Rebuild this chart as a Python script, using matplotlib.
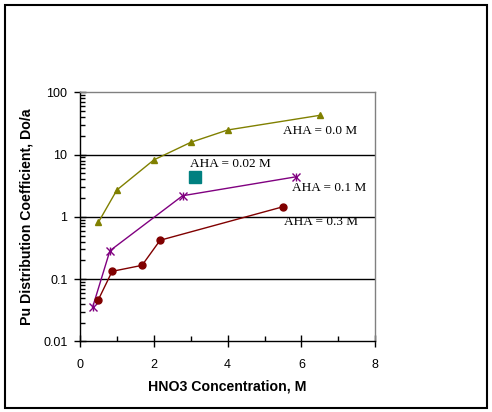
import matplotlib
matplotlib.use("Agg")
import matplotlib.pyplot as plt
from matplotlib.patches import Rectangle
from matplotlib.ticker import LogLocator, FixedLocator, NullFormatter, FuncFormatter

# Data
x_aha00 = [0.5, 1.0, 2.0, 3.0, 4.0, 6.5]
y_aha00 = [0.82, 2.7, 8.2, 15.7, 24.8, 42.7]

x_aha002 = [3.12]
y_aha002 = [4.3]

x_aha01 = [0.34, 0.81, 2.78, 5.86]
y_aha01 = [0.035, 0.285, 2.18, 4.4]

x_aha03 = [0.49, 0.87, 1.68, 2.17, 5.5]
y_aha03 = [0.0456, 0.133, 0.166, 0.42, 1.45]

labels = ["AHA = 0.0 M", "AHA = 0.02 M", "AHA = 0.1 M", "AHA = 0.3 M"]
y_ticks = [0.01, 0.1, 1, 10, 100]
y_tick_labels = ["0.01", "0.1", "1", "10", "100"]
x_ticks = [0, 2, 4, 6, 8]

fig = plt.figure(figsize=(4.92, 4.12), dpi=100)
fig.patches.append(Rectangle((5/492, 4/412), 482/492, 403/412, transform=fig.transFigure,
                             fill=False, edgecolor="black", linewidth=1.5))
ax = fig.add_axes([80/492, 1 - 341.3/412, (375.3-80)/492, (341.3-92.3)/412])

sans = "Liberation Sans"
serif = "Liberation Serif"

ax.set_yscale("log")
ax.set_xlim(0, 8)
ax.set_ylim(0.01, 100)

for yv in [0.1, 1, 10]:
    ax.axhline(yv, color="black", linewidth=1.0, zorder=1)

ax.plot(x_aha00, y_aha00, color="#808000", linewidth=1.0, marker="^", markersize=4.2, zorder=3)
ax.plot(x_aha01, y_aha01, color="#800080", linewidth=1.0, zorder=3)
ax.plot(x_aha01, y_aha01, color="#800080", linestyle="none", marker="x", markersize=5.5, markeredgewidth=1.0, zorder=3)
ax.plot(x_aha01, y_aha01, color="#800080", linestyle="none", marker="|", markersize=5.5, markeredgewidth=1.0, zorder=3)
ax.plot(x_aha03, y_aha03, color="#800000", linewidth=1.0, marker="o", markersize=5, zorder=3)
ax.plot(x_aha002, y_aha002, color="#008080", linestyle="none", marker="s", markersize=8, zorder=3)

tfs = 9.5
txt = [
    (labels[0], 283, 131),
    (labels[1], 190, 164),
    (labels[2], 292, 187.7),
    (labels[3], 284, 222),
]
for s, px, py in txt:
    ax.annotate(s, xy=(px, 412 - py), xycoords="figure pixels", fontsize=tfs, family=serif,
                va="center", ha="left")

ax.yaxis.set_major_locator(FixedLocator(y_ticks))
ax.yaxis.set_major_formatter(FuncFormatter(lambda v, p: y_tick_labels[y_ticks.index(v)] if v in y_ticks else ""))
ax.yaxis.set_minor_locator(LogLocator(base=10, subs=range(2, 10)))
ax.yaxis.set_minor_formatter(NullFormatter())
ax.xaxis.set_major_locator(FixedLocator(x_ticks))
ax.xaxis.set_minor_locator(FixedLocator([1, 3, 5, 7]))

ax.tick_params(which="major", direction="inout", length=8, width=1, labelsize=9)
ax.tick_params(axis="x", which="major", pad=9)
ax.tick_params(axis="y", which="major", pad=5)
ax.tick_params(which="minor", direction="in", length=3.5, width=1)
for lab in ax.get_xticklabels() + ax.get_yticklabels():
    lab.set_family(sans)

ax.spines["top"].set_color("#808080")
ax.spines["right"].set_color("#808080")
ax.spines["left"].set_color("black")
ax.spines["bottom"].set_color("black")
for sp in ax.spines.values():
    sp.set_linewidth(1.0)

ax.set_xlabel("HNO3 Concentration, M", fontsize=10.2, fontweight="bold", family=sans, labelpad=6)
ax.set_ylabel("Pu Distribution Coefficient, Do/a", fontsize=10.2, fontweight="bold", family=sans, labelpad=7)

fig.savefig("out.png", dpi=100)
